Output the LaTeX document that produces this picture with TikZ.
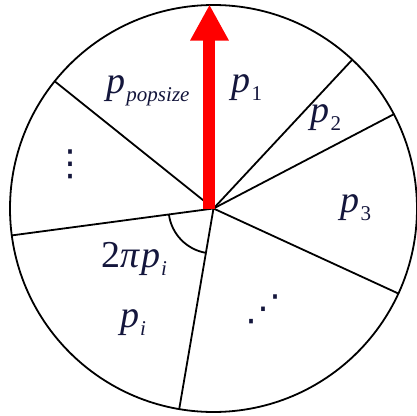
\documentclass[tikz,border=0pt]{standalone}
\usepackage{fontspec}
\setmainfont{Liberation Serif}
\newfontfamily\symfont{DejaVu Sans}
\usetikzlibrary{arrows.meta}
\definecolor{inkblue}{RGB}{20,22,60}
\newcommand\mysubs[1]{\raisebox{-8pt}{\fontsize{21}{21}\selectfont #1}}
\begin{document}
\begin{tikzpicture}[x=1pt,y=1pt,
  spoke/.style={line width=1.8pt,line cap=round},
  lab/.style={text=inkblue,font=\fontsize{38}{38}\selectfont,inner sep=0pt},
  dotlab/.style={text=inkblue,font=\symfont\fontsize{36}{36}\selectfont,inner sep=0pt}]
\useasboundingbox (-213.5,-207.5) rectangle (202.5,208.5);
\coordinate (O) at (0,0);
\draw[spoke] (O) circle[radius=203.5];
\foreach \a/\n in {141.3/s1,47.0/s2,27.6/s3,-24.7/s4,260.3/s5,187.6/s6}
  \draw[spoke] (O) -- (\a:203.5) coordinate (\n);
\draw[line width=1.8pt] (187.6:45) arc[start angle=187.6,end angle=260.3,radius=45];
\coordinate (A0) at (-4,0);
\coordinate (A1) at (-4,204);
\draw[red,line width=12pt,-{Triangle[length=36pt,width=36pt]}] (A0) -- (A1);
\node[lab] (ppop) at (-65.5,118) {\textit{p}\kern1pt\mysubs{\textit{popsize}}};
\node[lab] (p1) at (33.5,121) {\textit{p}\kern1pt\mysubs{1}};
\node[lab] (p2) at (112.5,91) {\textit{p}\kern1pt\mysubs{2}};
\node[lab] (p3) at (142.5,1) {\textit{p}\kern1pt\mysubs{3}};
\node[lab] (tpi) at (-79.5,-50) {2\textit{π}\kern1pt\textit{p}\kern1pt\mysubs{\textit{i}}};
\node[lab] (pi) at (-80.5,-114) {\textit{p}\kern1pt\mysubs{\textit{i}}};
\node[dotlab] (vd) at (-142.5,44.5) {⋮};
\node[dotlab] (dd) at (50.5,-100.5) {⋰};
\end{tikzpicture}
\end{document}
